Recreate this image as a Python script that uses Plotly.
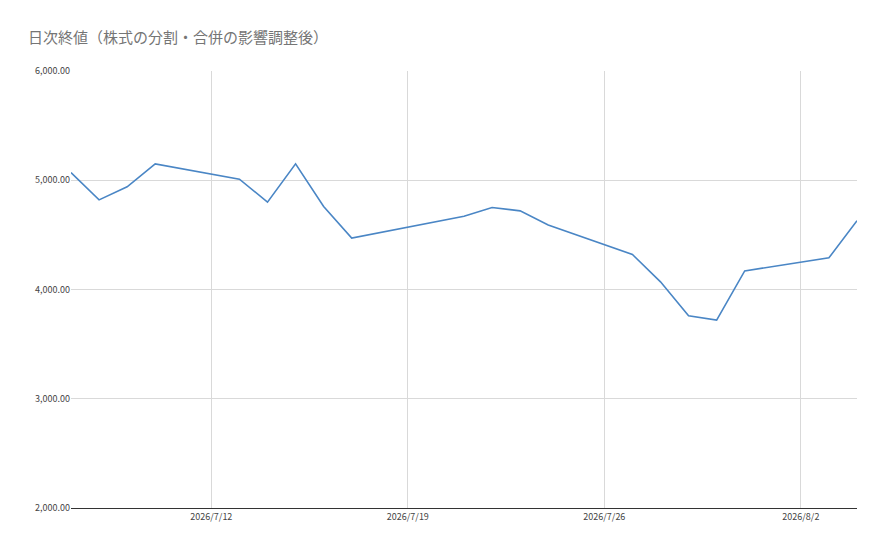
import plotly.graph_objects as go

dates = ["2026-07-07", "2026-07-08", "2026-07-09", "2026-07-10", "2026-07-13", "2026-07-14",
         "2026-07-15", "2026-07-16", "2026-07-17", "2026-07-21", "2026-07-22", "2026-07-23",
         "2026-07-24", "2026-07-27", "2026-07-28", "2026-07-29", "2026-07-30", "2026-07-31",
         "2026-08-03", "2026-08-04"]
close = [5070, 4820, 4940, 5150, 5010, 4800, 5150, 4760, 4470, 4670, 4750, 4720,
         4590, 4320, 4070, 3760, 3720, 4170, 4290, 4630]
tick_vals = ["2026-07-12", "2026-07-19", "2026-07-26", "2026-08-02"]
tick_text = ["2026/7/12", "2026/7/19", "2026/7/26", "2026/8/2"]

fig = go.Figure(go.Scatter(x=dates, y=close, mode="lines",
                           line=dict(color="#4a86c5", width=1.6)))

fig.update_layout(
    width=870, height=536,
    paper_bgcolor="white", plot_bgcolor="white",
    margin=dict(l=63, r=21, t=63, b=36),
    showlegend=False,
    font=dict(family="Noto Sans CJK JP", color="#444"),
    title=dict(text="日次終値（株式の分割・合併の影響調整後）", x=0.023, y=0.955,
               xanchor="left", font=dict(size=15, color="#757575")),
)
fig.update_xaxes(range=["2026-07-07", "2026-08-04"], tickvals=tick_vals, ticktext=tick_text,
                 showgrid=True, gridcolor="#d9d9d9", showline=True, linecolor="#333",
                 tickfont=dict(size=9, color="#444"), ticks="")
fig.update_yaxes(range=[2000, 6000], dtick=1000, tickformat=",.2f",
                 showgrid=True, gridcolor="#d9d9d9", zeroline=False,
                 tickfont=dict(size=9, color="#444"), ticks="")

fig.write_html("out.html")
